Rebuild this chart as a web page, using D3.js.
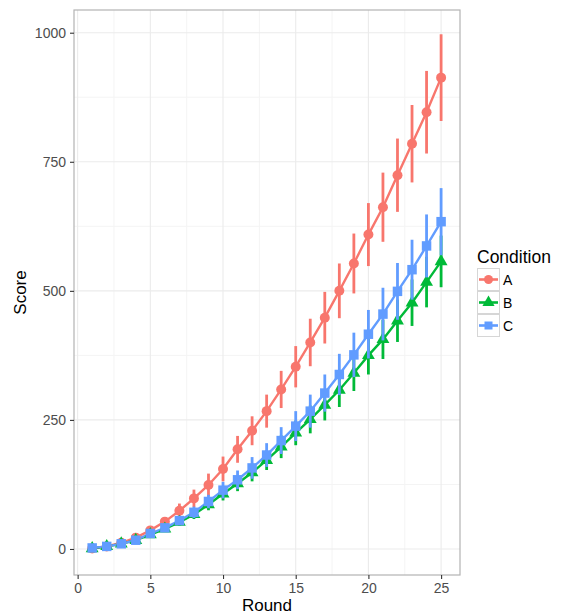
<!DOCTYPE html>
<html><head><meta charset="utf-8">
<script src="https://cdn.jsdelivr.net/npm/d3@7"></script>
<style>body{margin:0;background:#fff}svg{display:block;font-family:"Liberation Sans",Arial,sans-serif}</style>
</head><body><svg id="c" width="566" height="616"></svg>
<script>
const rounds = d3.range(1, 26);
const conditions = ["A", "B", "C"];
const scoreA = [1,5,12,22,36,53,74,98,124,155,193,229,267,309,353,400,448,500,553,609,662,724,785,846,913];
const errA   = [1,2,3,4,6,9,14,17,22,24,26,28,32,36,40,46,50,53,58,61,67,71,75,80,84];
const scoreB = [1,5,10,17,28,39,52,67,86,107,127,148,172,198,225,251,279,308,341,375,406,442,477,517,557];
const errB   = [1,1,2,3,4,5,7,9,11,13,15,17,19,22,24,27,30,33,35,37,38,41,45,49,50];
const scoreC = [2,5,10,17,30,41,55,71,92,114,134,157,182,210,238,267,302,338,376,416,455,499,541,587,634];
const errC   = [1,2,3,4,5,7,9,11,13,16,18,21,23,26,29,32,36,40,43,47,51,55,58,61,65];
const xTicks = [0,5,10,15,20,25];
const yTicks = [0,250,500,750,1000];
const colors = ["#F8766D","#00BA38","#619CFF"];

const series = [
  {name:"A", vals:scoreA, errs:errA, shape:d3.symbolCircle},
  {name:"B", vals:scoreB, errs:errB, shape:d3.symbolTriangle},
  {name:"C", vals:scoreC, errs:errC, shape:d3.symbolSquare}
].map(s => ({...s, pts: rounds.map((r,i)=>({x:r, y:s.vals[i], e:s.errs[i]}))}));

const svg = d3.select("#c");
const P = {l:74, r:460, t:10, b:575};
const x = d3.scaleLinear().domain([-0.25, 26.3]).range([P.l, P.r]);
const y = d3.scaleLinear().domain([-50.4, 1044]).range([P.b, P.t]);
const col = d3.scaleOrdinal().domain(conditions).range(colors);

// grid
const g = svg.append("g");
const minorX = [2.5,7.5,12.5,17.5,22.5], minorY = [125,375,625,875];
g.selectAll(".mx").data(minorX).join("line").attr("x1",d=>x(d)).attr("x2",d=>x(d)).attr("y1",P.t).attr("y2",P.b).attr("stroke","#f4f4f4").attr("stroke-width",1);
g.selectAll(".my").data(minorY).join("line").attr("y1",d=>y(d)).attr("y2",d=>y(d)).attr("x1",P.l).attr("x2",P.r).attr("stroke","#f4f4f4").attr("stroke-width",1);
g.selectAll(".gx").data(xTicks).join("line").attr("x1",d=>x(d)).attr("x2",d=>x(d)).attr("y1",P.t).attr("y2",P.b).attr("stroke","#ebebeb").attr("stroke-width",1.1);
g.selectAll(".gy").data(yTicks).join("line").attr("y1",d=>y(d)).attr("y2",d=>y(d)).attr("x1",P.l).attr("x2",P.r).attr("stroke","#ebebeb").attr("stroke-width",1.1);

// lines
const line = d3.line().x(d=>x(d.x)).y(d=>y(d.y));
svg.append("g").selectAll("path").data(series).join("path")
  .attr("d", s=>line(s.pts)).attr("fill","none").attr("stroke", s=>col(s.name)).attr("stroke-width",2.4);

// pointranges
series.forEach(s => {
  const gg = svg.append("g");
  gg.selectAll("line").data(s.pts).join("line")
    .attr("x1",d=>x(d.x)).attr("x2",d=>x(d.x)).attr("y1",d=>y(d.y-d.e)).attr("y2",d=>y(d.y+d.e))
    .attr("stroke", col(s.name)).attr("stroke-width",2.8);
  const sz = s.name==="A"?78:(s.name==="B"?72:90);
  gg.selectAll("path").data(s.pts).join("path")
    .attr("transform", d=>`translate(${x(d.x)},${y(d.y)})`)
    .attr("d", d3.symbol().type(s.shape).size(sz)).attr("fill", col(s.name));
});

// border
svg.append("rect").attr("x",P.l).attr("y",P.t).attr("width",P.r-P.l).attr("height",P.b-P.t).attr("fill","none").attr("stroke","#b3b3b3").attr("stroke-width",1.2);

// axes
const xa = svg.append("g").attr("transform",`translate(0,${P.b})`)
  .call(d3.axisBottom(x).tickValues(xTicks).tickFormat(d3.format("d")).tickSize(4).tickPadding(4));
const ya = svg.append("g").attr("transform",`translate(${P.l},0)`)
  .call(d3.axisLeft(y).tickValues(yTicks).tickFormat(d3.format("d")).tickSize(4).tickPadding(4));
[xa,ya].forEach(a=>{
  a.select(".domain").remove();
  a.selectAll(".tick line").attr("stroke","#333").attr("stroke-width",1.1);
  a.selectAll(".tick text").attr("fill","#4d4d4d").attr("font-size",14).attr("font-family","Liberation Sans, Arial, sans-serif");
});

svg.append("text").attr("x",(P.l+P.r)/2).attr("y",611).attr("text-anchor","middle").attr("font-size",17).attr("fill","#000").text("Round");
svg.append("text").attr("transform",`translate(26,${(P.t+P.b)/2}) rotate(-90)`).attr("text-anchor","middle").attr("font-size",17).attr("fill","#000").text("Score");

// legend
const L = svg.append("g").attr("transform","translate(477,0)");
L.append("text").attr("x",0).attr("y",263).attr("font-size",17.5).text("Condition");
series.forEach((s,i)=>{
  const ky = 268 + i*23;
  const k = L.append("g").attr("transform",`translate(0,${ky})`);
  k.append("rect").attr("x",0.5).attr("y",0.5).attr("width",22).attr("height",22).attr("fill","#fff").attr("stroke","#d6d6d6");
  k.append("line").attr("x1",2).attr("x2",21).attr("y1",11.5).attr("y2",11.5).attr("stroke",col(s.name)).attr("stroke-width",2.6);
  k.append("path").attr("transform","translate(11.5,11.5)").attr("d",d3.symbol().type(s.shape).size(64)).attr("fill",col(s.name));
  k.append("text").attr("x",26).attr("y",17).attr("font-size",14).attr("fill","#000").text(s.name);
});
</script></body></html>
